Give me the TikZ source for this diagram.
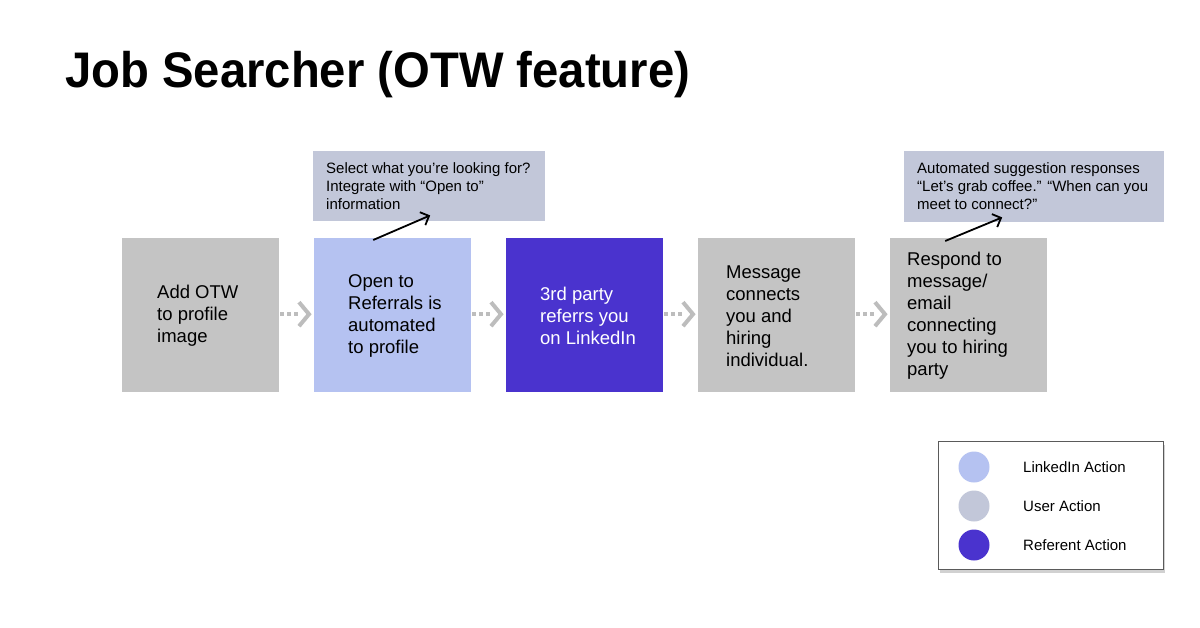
\documentclass[tikz,border=0pt]{standalone}
\usepackage{fontspec}
\setmainfont{Liberation Sans}
\usetikzlibrary{arrows.meta,shadows}
\definecolor{usergray}{HTML}{C4C4C4}
\definecolor{linkedin}{HTML}{B5C2F1}
\definecolor{referent}{HTML}{4A33CE}
\definecolor{callout}{HTML}{C2C7D9}
\definecolor{chevgray}{HTML}{BDBDBD}
\definecolor{legendline}{HTML}{5A5A5A}
\tikzset{
  stepbox/.style={minimum width=157pt, minimum height=154pt, inner sep=0pt, anchor=north west, draw=none},
  boxtext/.style={anchor=west, inner sep=0pt, align=left, font=\fontsize{18.5}{22}\selectfont},
  callbox/.style={fill=callout, inner sep=0pt, anchor=north west},
  calltext/.style={anchor=west, inner sep=0pt, align=left, font=\fontsize{15}{18}\selectfont},
  dotline/.style={draw=chevgray, line width=4pt, dash pattern=on 4pt off 3pt},
  chev/.style={draw=chevgray, line width=4pt, miter limit=10},
  callarrow/.style={draw=black, line width=1.8pt, -{Straight Barb[length=7pt,width=14pt,line width=1.8pt]}},
  legtext/.style={anchor=west, inner sep=0pt, font=\fontsize{15}{18}\selectfont},
  legdot/.style={circle, minimum size=31pt, inner sep=0pt}
}
\begin{document}
\begin{tikzpicture}[x=1pt,y=-1pt]
\useasboundingbox (0,0) rectangle (1200,627);
% title
\node[anchor=base west, inner sep=0pt] (title) at (65,87) {\scalebox{0.945}[1]{\fontsize{50}{60}\selectfont\bfseries Job Searcher (OTW feature)}};
% boxes
\node[stepbox, fill=usergray] (b1) at (122,238) {};
\node[stepbox, fill=linkedin] (b2) at (314,238) {};
\node[stepbox, fill=referent] (b3) at (506,238) {};
\node[stepbox, fill=usergray] (b4) at (698,238) {};
\node[stepbox, fill=usergray] (b5) at (890,238) {};
\node[boxtext] (t1) at (157,316) {Add OTW\\to profile\\image};
\node[boxtext] (t2) at (348,316) {Open to\\Referrals is\\automated\\to profile};
\node[boxtext, text=white] (t3) at (540,316) {3rd party\\referrs you\\on LinkedIn};
\node[boxtext] (t4) at (726,316) {Message\\connects\\you and\\hiring\\individual.};
\node[boxtext] (t5) at (907,316) {Respond to\\message/\\email\\connecting\\you to hiring\\party};
% connectors between boxes
\foreach \a/\b in {b1/b2,b2/b3,b3/b4,b4/b5}{
  \draw[dotline] ([shift={(1,-1)}]\a.east) -- ([shift={(-16,-1)}]\b.west);
  \draw[chev] ([shift={(-15,-13)}]\b.west) -- ([shift={(-5,-1)}]\b.west) -- ([shift={(-15,11)}]\b.west);
}
% callouts
\node[callbox, minimum width=232pt, minimum height=70pt] (c1) at (313,151) {};
\node[calltext] (ct1) at (326,186) {Select what you’re looking for?\\Integrate with “Open to”\\information};
\node[callbox, minimum width=260pt, minimum height=71pt] (c2) at (904,151) {};
\node[calltext] (ct2) at (917,186) {Automated suggestion responses\\“Let’s grab coffee.” “When can you\\meet to connect?”};
\draw[callarrow] ([shift={(-19.5,2)}]b2.north) -- ([shift={(1,-6)}]c1.south);
\draw[callarrow] ([shift={(-23.5,3)}]b5.north) -- ([shift={(-32,-5)}]c2.south);
% legend
\node[draw=legendline, line width=1pt, fill=white, minimum width=225pt, minimum height=128pt, inner sep=0pt, anchor=north west,
  drop shadow={shadow xshift=1pt, shadow yshift=-3pt, fill=black, opacity=0.18}] (leg) at (938,441) {};
\node[legdot, fill=linkedin] (l1) at (974,467) {};
\node[legdot, fill=callout] (l2) at (974,506) {};
\node[legdot, fill=referent] (l3) at (974,545) {};
\node[legtext] (lt1) at (1023,467) {LinkedIn Action};
\node[legtext] (lt2) at (1023,506) {User Action};
\node[legtext] (lt3) at (1023,545) {Referent Action};
\end{tikzpicture}
\end{document}
